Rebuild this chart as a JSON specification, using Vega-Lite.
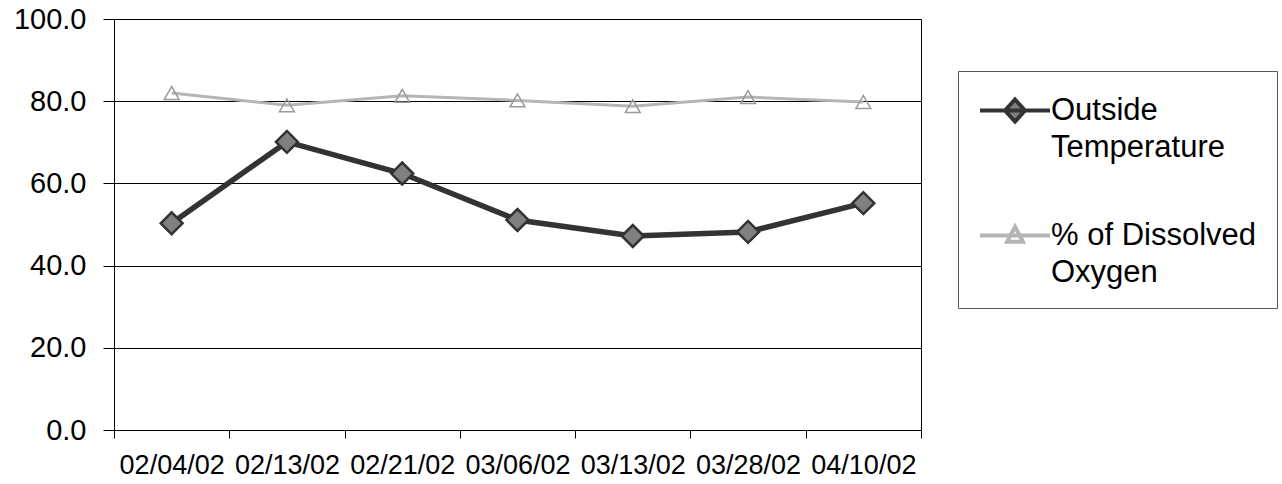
{
  "$schema": "https://vega.github.io/schema/vega-lite/v6.json",
  "autosize": {"type": "none"},
  "width": 807,
  "height": 411,
  "padding": {"left": 114, "top": 19, "right": 361, "bottom": 54},
  "background": "white",
  "config": {"font": "Liberation Sans", "view": {"stroke": "black", "strokeWidth": 1}},
  "data": {"values": [
    {"date": "02/04/02", "series": "Outside Temperature", "value": 50.3},
    {"date": "02/13/02", "series": "Outside Temperature", "value": 70.1},
    {"date": "02/21/02", "series": "Outside Temperature", "value": 62.4},
    {"date": "03/06/02", "series": "Outside Temperature", "value": 51.1},
    {"date": "03/13/02", "series": "Outside Temperature", "value": 47.2},
    {"date": "03/28/02", "series": "Outside Temperature", "value": 48.2},
    {"date": "04/10/02", "series": "Outside Temperature", "value": 55.2},
    {"date": "02/04/02", "series": "% of Dissolved Oxygen", "value": 82.0},
    {"date": "02/13/02", "series": "% of Dissolved Oxygen", "value": 79.0},
    {"date": "02/21/02", "series": "% of Dissolved Oxygen", "value": 81.3},
    {"date": "03/06/02", "series": "% of Dissolved Oxygen", "value": 80.2},
    {"date": "03/13/02", "series": "% of Dissolved Oxygen", "value": 78.8},
    {"date": "03/28/02", "series": "% of Dissolved Oxygen", "value": 81.0},
    {"date": "04/10/02", "series": "% of Dissolved Oxygen", "value": 79.8}
  ]},
  "encoding": {
    "x": {
      "field": "date", "type": "ordinal",
      "scale": {"type": "band", "paddingInner": 0, "paddingOuter": 0},
      "axis": {"title": null, "labelAngle": 0, "tickBand": "extent", "grid": false,
        "domainColor": "black", "tickColor": "black", "tickSize": 8,
        "labelFontSize": 27, "labelPadding": 14, "labelColor": "black", "labelBaseline": "top"}
    },
    "y": {
      "field": "value", "type": "quantitative",
      "scale": {"domain": [0, 100]},
      "axis": {"title": null, "values": [0, 20, 40, 60, 80, 100], "format": ".1f",
        "grid": true, "gridColor": "black", "gridOpacity": 1, "gridWidth": 1,
        "domainColor": "black", "tickColor": "black", "tickSize": 11,
        "labelPadding": 17, "labelFontSize": 29, "labelColor": "black"}
    }
  },
  "layer": [
    {
      "transform": [{"filter": "datum.series == '% of Dissolved Oxygen'"}],
      "mark": {"type": "line", "strokeWidth": 3, "color": "#b5b5b5"}
    },
    {
      "transform": [{"filter": "datum.series == 'Outside Temperature'"}],
      "mark": {"type": "line", "strokeWidth": 5.5, "color": "#333333"}
    },
    {
      "transform": [{"filter": "datum.series == '% of Dissolved Oxygen'"}],
      "mark": {"type": "point", "shape": "triangle-up", "filled": false, "stroke": "#9a9a9a", "strokeWidth": 1.5, "size": 220, "opacity": 1}
    },
    {
      "transform": [{"filter": "datum.series == 'Outside Temperature'"}],
      "mark": {"type": "point", "shape": "diamond", "filled": true, "fill": "#808080", "stroke": "#333333", "strokeWidth": 2.5, "size": 480, "opacity": 1}
    },
    {
      "mark": {"type": "point", "filled": true, "opacity": 0, "size": 1225, "strokeWidth": 4},
      "encoding": {
        "fill": {
          "field": "series", "type": "nominal",
          "scale": {"domain": ["Outside Temperature", "% of Dissolved Oxygen"], "range": ["#808080", "transparent"]},
          "legend": {
            "title": null, "orient": "none", "legendX": 844, "legendY": 52,
            "padding": 20, "strokeColor": "#555555", "fillColor": "white",
            "labelFontSize": 31, "labelColor": "black", "labelLimit": 0, "labelOffset": 34,
            "rowPadding": 53, "symbolSize": 1225, "symbolStrokeWidth": 4, "labelBaseline": "middle",
            "labelExpr": "datum.value == 'Outside Temperature' ? ['Outside', 'Temperature'] : ['% of Dissolved', 'Oxygen']",
            "encode": {
              "labels": {"update": {"lineHeight": {"value": 37}}},
              "symbols": {"update": {"opacity": {"value": 1}, "strokeWidth": {"value": 4}}}
            }
          }
        },
        "stroke": {
          "field": "series", "type": "nominal",
          "scale": {"domain": ["Outside Temperature", "% of Dissolved Oxygen"], "range": ["#333333", "#b5b5b5"]}
        },
        "shape": {
          "field": "series", "type": "nominal",
          "scale": {"domain": ["Outside Temperature", "% of Dissolved Oxygen"], "range": ["M-1,0L3,0M1,-0.63L1.57,0L1,0.63L0.43,0Z", "M-1,0L3,0M1,-0.5L1.45,0.35L0.55,0.35Z"]}
        }
      }
    }
  ]
}
